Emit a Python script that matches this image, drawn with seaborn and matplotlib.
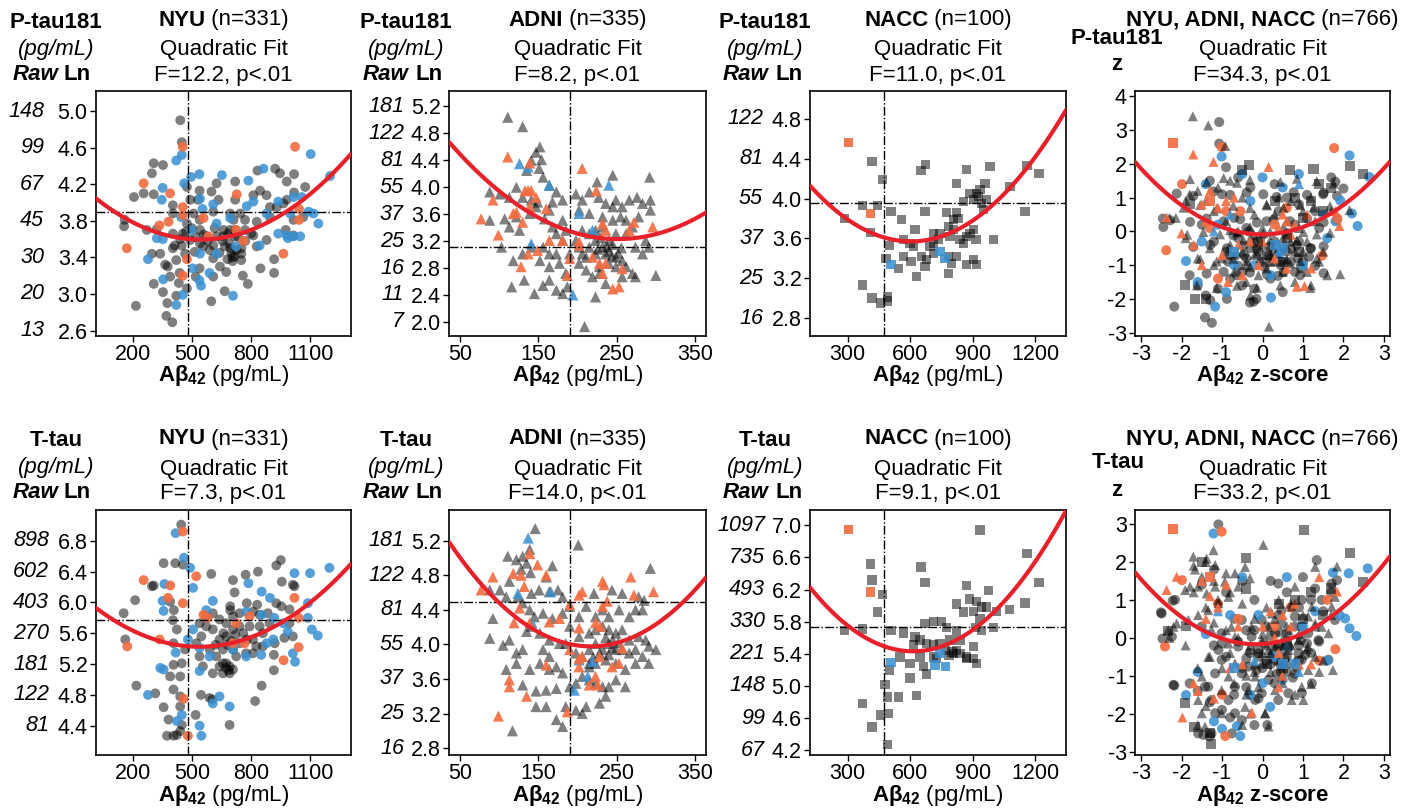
import matplotlib
matplotlib.use("Agg")
import matplotlib.pyplot as plt
import matplotlib.transforms as mtransforms
import seaborn as sns
import pandas as pd

W, H = 1412, 810

# ---------------- data ----------------
# NYU, P-tau181 (ln) vs Abeta42
nyu_ptau_gray = [(441,4.90),(449,4.66),(307,4.43),(354,4.41),(298,4.32),(307,4.09),(207,4.06),(157,3.74),(160,3.81),
    (217,2.87),(307,3.11),(354,3.02),(376,2.90),(371,2.76),(401,2.69),(378,3.30),(421,2.98),(434,3.12),(475,3.06),
    (438,3.23),(404,3.97),(404,3.88),(323,3.71),(404,3.66),(404,3.50),(454,3.66),(466,3.44),(514,3.46),(541,3.55),
    (608,3.53),(684,3.66),(716,3.63),(716,3.41),(750,3.37),(694,3.88),(719,4.03),(719,4.23),(811,4.08),(832,4.35),
    (921,4.37),(946,4.32),(980,4.23),(1017,4.31),(1073,4.17),(1017,4.11),(980,4.03),(929,3.95),(878,4.08),(845,4.13),
    (625,4.21),(599,4.12),(539,4.13),(531,4.03),(635,4.03),(608,3.90),(539,3.81),(615,3.72),(574,3.63),(667,3.52),
    (608,3.39),(539,3.28),(608,3.19),(642,3.30),(674,3.24),(666,3.03),(598,2.92),(758,3.20),(783,3.11),(847,3.28),
    (916,3.23),(916,3.38),(975,3.70),(1014,3.64),(1014,3.81),(1063,3.84),(811,3.64),(828,3.52),(769,3.70),(828,3.79),
    (878,3.59),(745,3.88),(769,3.81),(694,3.70),(660,3.63),(475,4.17),(492,4.03),(509,3.88),(475,3.77),(492,3.59),
    (413,3.53),(421,3.37),(541,3.70),(557,3.52),(625,3.63),(694,3.50),(711,3.81),(750,3.50),(750,3.44),(895,3.84),
    (895,3.95),(963,3.99),(340,3.44),(298,3.44),(272,3.70),(256,4.10),(365,3.32),(390,3.19),(519,3.19),(449,3.53),
    (700,3.45),(705,3.40),(690,3.55),(655,3.58),(720,3.70),(735,3.62),(680,3.38),(640,3.45),(580,3.58),(560,3.65),
    (500,3.72),(470,3.68),(440,3.60),(706,3.36),(725,3.48),(660,3.70),(590,3.48),(520,3.62),(770,3.58),(800,3.66)]
nyu_ptau_blue = [(449,4.52),(421,4.46),(352,4.16),(461,4.21),(496,4.28),(538,4.31),(652,4.30),(786,4.24),(862,4.37),
    (1101,4.53),(1199,4.29),(348,4.03),(323,3.61),(353,3.60),(278,3.38),(355,3.16),(421,2.88),(454,2.99),(538,3.15),
    (546,3.09),(708,2.98),(541,4.04),(554,3.93),(608,3.98),(625,3.77),(694,3.83),(778,3.96),(811,4.01),(878,3.88),
    (937,3.66),(980,3.64),(997,3.88),(1014,4.06),(1056,4.06),(1090,3.90),(1115,3.88),(1140,3.77),(986,3.61),(1014,3.63),
    (1048,3.63),(843,3.53),(724,3.52),(497,3.70),(541,3.44),(505,3.28),(589,3.23),(625,3.44),(446,3.84),(937,4.01)]
nyu_ptau_orange = [(256,4.21),(171,3.50),(454,4.61),(390,4.10),(454,3.95),(454,3.86),(336,3.75),(559,3.83),(584,3.63),
    (724,3.70),(727,4.09),(761,3.58),(1022,4.61),(1042,3.93),(1042,3.81),(963,3.44),(454,3.20),(475,3.38),(382,3.79)]

# ADNI, P-tau181 (ln)
adni_ptau_gray = [(111,5.04),(130,4.90),(152,4.60),(147,4.52),(141,4.40),(154,4.41),(151,4.28),(135,4.25),(156,4.15),
    (164,4.03),(88,3.93),(101,3.90),(113,3.85),(122,4.00),(130,3.85),(141,3.81),(149,3.78),(173,3.93),(181,3.81),
    (168,3.78),(164,3.66),(158,3.53),(147,3.71),(139,3.61),(122,3.56),(107,3.53),(88,3.51),(113,3.41),(126,3.36),
    (103,3.11),(118,2.91),(130,3.01),(132,2.62),(116,2.52),(145,2.42),(156,2.54),(164,2.62),(173,2.47),(181,2.42),
    (187,2.52),(185,2.72),(177,2.87),(164,2.82),(152,2.91),(141,3.11),(156,3.11),(164,3.01),(173,3.01),(181,3.21),
    (190,3.01),(198,3.90),(206,3.81),(215,3.93),(225,4.08),(245,4.18),(227,3.85),(236,3.76),(249,3.81),(257,3.71),
    (266,3.81),(276,3.85),(283,3.76),(293,3.81),(293,3.66),(292,4.15),(278,3.56),(270,3.41),(262,3.31),(249,3.31),
    (240,3.21),(232,3.11),(223,3.01),(215,3.11),(206,3.01),(202,2.87),(211,2.77),(219,2.67),(228,2.72),(236,2.57),
    (223,2.37),(249,2.82),(257,2.67),(270,2.72),(274,2.67),(283,3.01),(274,3.11),(287,3.21),(291,3.11),(300,2.69),
    (209,1.93),(198,3.21),(206,3.36),(223,3.36),(232,3.41),(245,3.51),(255,3.56),(262,3.51),(202,3.66),(215,3.61),
    (232,3.56),(245,3.71),(215,3.31),(223,3.21),(236,3.01),(249,2.96),(257,2.91),(262,2.82),(240,2.87),(228,2.82),
    (211,2.96),(202,3.11),(173,3.31),(185,3.36),(181,3.51),(168,3.41),(240,3.05),(245,3.15),(230,3.25),(252,3.02),
    (238,3.12),(226,3.08),(244,2.98),(256,3.10)]
adni_ptau_blue = [(126,4.35),(137,4.30),(164,4.03),(240,4.03),(202,3.61),(219,3.36),(141,3.16),(194,2.40)]
adni_ptau_orange = [(111,4.45),(139,4.36),(133,3.95),(137,3.95),(141,3.95),(92,3.81),(77,3.53),(99,3.29),(118,3.61),
    (122,3.63),(130,3.48),(139,3.71),(147,3.85),(160,3.68),(164,3.21),(181,3.21),(187,2.69),(190,2.94),(202,3.14),
    (206,4.28),(224,3.95),(232,3.46),(236,3.36),(219,2.96),(228,2.87),(236,2.87),(232,2.72),(245,2.49),(253,2.52),
    (257,2.79),(272,3.48),(266,3.36),(296,3.41),(128,2.82),(137,3.01),(149,3.06),(202,3.19)]

# NACC, P-tau181 (ln)
nacc_ptau_gray = [(417,4.37),(469,4.19),(445,3.93),(372,3.93),(286,3.80),(409,3.66),(509,3.87),(501,3.53),(485,3.40),
    (544,3.30),(372,3.13),(417,3.00),(459,2.95),(493,2.97),(493,3.01),(560,3.79),(568,3.59),(600,3.55),(624,3.69),
    (616,3.52),(605,3.37),(632,3.22),(653,4.28),(675,4.34),(672,3.87),(656,3.42),(672,3.32),(680,3.39),(712,3.65),
    (712,3.45),(736,3.59),(776,3.86),(784,3.72),(792,3.62),(800,3.35),(784,3.25),(824,3.86),(824,4.15),(829,3.80),
    (824,3.42),(840,3.59),(856,3.97),(872,4.29),(888,4.05),(872,3.62),(872,3.34),(920,3.34),(904,3.39),(904,3.69),
    (917,3.59),(920,4.05),(936,4.09),(960,4.15),(944,3.95),(952,3.89),(968,3.99),(984,4.32),(1000,3.59),(1080,4.12),
    (1152,3.87),(1160,4.33),(1219,4.25),(904,3.99),(928,4.02),(712,3.55),(744,3.65),(696,3.52),(568,3.42),(888,3.65),
    (856,3.55),(784,3.42),(808,3.79),(808,3.69)]
nacc_ptau_blue = [(509,3.34),(744,3.47),(768,3.40)]
nacc_ptau_orange = [(305,4.56),(409,3.85)]

# NYU + ADNI + NACC, P-tau181 z-score
ptau_z_nyu_gray = [(-1.07,3.24),(-1.07,2.60),(-2.46,0.38),(-2.45,0.13),(-2.18,-2.23),(-1.42,-2.55),(-1.25,-2.71),
    (-0.31,-2.11),(2.0,1.27),(1.80,1.47),(-0.9,1.9),(-1.3,1.5),(-1.0,1.1),(-0.6,1.6),(-0.3,1.3),(0.3,1.4),(0.6,1.0),
    (0.9,0.8),(1.3,0.6),(1.5,1.1),(1.7,1.6),(-1.6,-1.6),(-1.4,-1.9),(-1.1,-1.7),(-0.8,-1.4),(-0.5,-1.2),(-0.2,-1.7),
    (0.2,-1.4),(0.5,-1.8),(0.8,-1.2),(1.0,-0.9),(-1.5,0.2),(-1.2,-0.3),(-0.9,-0.6),(-0.6,-0.2),(-0.3,-0.5),(0.0,-0.9),
    (0.3,-0.3),(0.6,-0.6),(0.9,-0.3),(1.2,-0.5),(1.4,0.1),(-0.7,0.4),(-0.4,0.1),(0.1,0.3),(0.4,0.6),(0.8,0.2),
    (-1.8,-1.3),(-0.15,-2.0),(0.45,-1.0),(-0.85,-0.9),(-0.5,-1.6),(-0.1,-0.6),(0.2,-0.8),(-0.4,-0.8),(0.7,-0.9),
    (-2.12,1.12),(-1.71,1.05),(-1.21,1.18),(-0.80,1.08),(-0.39,1.15),(0.02,1.10),(0.35,1.02),(0.77,1.16),(1.10,1.08),
    (1.51,1.14),(1.84,1.05),(-2.28,0.33),(-1.79,0.28),(-1.38,0.38),(-0.96,0.30),(-0.55,0.36),(-0.14,0.26),(0.27,0.35),
    (0.68,0.30),(1.10,0.38),(1.51,0.27),(1.84,0.34),(-1.71,-0.46),(-1.29,-0.40),(-0.88,-0.50),(-0.47,-0.43),
    (-0.14,-0.52),(0.19,-0.44),(0.52,-0.49),(0.85,-0.41),(1.18,-0.50),(1.51,-0.44),(-1.38,-1.25),(-0.96,-1.20),
    (-0.63,-1.30),(-0.31,-1.22),(0.11,-1.28),(0.52,-1.21),(0.93,-1.30),(1.51,-1.24),(-1.29,-2.04),(-0.88,-2.00),
    (-0.22,-2.08),(-0.72,-0.12),(-0.45,-0.70),(-0.20,-0.35),(0.05,-1.05),(0.28,-0.62),(0.48,-0.90),(0.70,-0.52),
    (0.95,-1.10),(1.15,-0.75),(-0.60,-1.02),(-0.05,-0.20),(0.38,-1.32),(0.62,-0.05),(0.88,-0.80),(-0.35,0.00),
    (0.15,-0.72),(1.30,-1.02),(-0.82,-0.70)]
ptau_z_nyu_blue = [(-1.01,2.22),(2.15,2.25),(2.64,1.61),(-1.89,-0.88),(-1.17,-2.23),(0.21,-1.96),(2.35,0.16),
    (2.21,0.53),(1.92,0.92),(-0.5,1.7),(0.0,1.6),(0.9,1.7),(-1.6,-1.5),(-1.5,-0.3),(-0.7,-1.0),(0.5,1.3),(1.5,0.5),
    (1.8,0.3),(-1.4,1.4),(-0.2,-1.0),(1.0,-1.0),(-0.9,-1.8),(0.4,-0.7),(-1.1,0.2),(1.6,-0.2),(0.2,-1.3),(-0.3,0.9)]
ptau_z_nyu_orange = [(-1.01,2.50),(1.77,2.47),(-1.99,1.40),(-2.38,-0.56),(1.47,-0.72),(1.85,0.38),(-0.55,0.6),
    (0.3,0.2),(-1.1,-1.4),(-0.9,0.6),(0.6,0.7),(-1.3,0.1)]
ptau_z_adni_gray = [(-1.72,3.41),(-1.34,3.14),(-0.92,2.53),(2.15,0.63),(1.92,-1.27),(0.16,-2.82),(-2.14,0.40),
    (-1.8,1.1),(-1.6,1.2),(-1.4,0.9),(-1.1,1.3),(-0.8,1.5),(-0.5,1.0),(-1.2,0.6),(-0.9,0.3),(-0.6,0.0),(-0.3,-0.2),
    (0.0,0.1),(0.2,-0.4),(0.5,-0.2),(0.8,-0.6),(1.1,-0.3),(1.3,0.3),(1.0,0.6),(0.7,0.9),(0.4,1.0),(0.1,0.8),
    (-0.2,0.5),(0.2,-0.9),(0.5,-1.2),(0.8,-1.5),(1.1,-1.2),(1.4,-0.9),(-0.1,-1.3),(-0.4,-1.5),(-0.7,-1.2),(-1.0,-0.8),
    (-1.3,-0.5),(-1.6,-0.8),(-1.9,-0.2),(-2.3,0.4),(-0.2,-0.7),(0.6,0.3),(0.9,0.1),(1.5,-0.6),(1.7,0.6),(1.2,1.0),
    (-0.4,-1.0),(0.0,-0.4),(0.3,0.5),(-0.8,-0.4),(1.6,-1.3),(1.2,-1.6),(-0.3,-1.9),(-1.2,-1.0),(-1.9,0.9),
    (-0.5,-0.6),(0.1,-1.1),(0.7,-0.3),(-0.7,-0.7),(0.4,-0.5),(1.0,-0.6),
    (-1.79,1.55),(-1.38,1.46),(-0.96,1.58),(-0.63,1.44),(-0.31,1.53),(0.44,1.47),(0.85,1.56),(1.34,1.49),(1.76,1.42),
    (-1.95,0.70),(-1.54,0.78),(-1.13,0.68),(-0.72,0.76),(-0.31,0.69),(0.11,0.77),(0.52,0.70),(0.93,0.78),(1.26,0.71),
    (1.67,0.75),(-1.86,-0.10),(-1.46,-0.02),(-1.05,-0.09),(-0.63,-0.03),(-0.22,-0.10),(0.19,-0.01),(0.60,-0.08),
    (1.01,-0.02),(1.34,-0.09),(1.67,-0.04),(-1.54,-0.82),(-1.13,-0.89),(-0.72,-0.81),(-0.39,-0.88),(-0.06,-0.80),
    (0.27,-0.89),(0.60,-0.83),(0.93,-0.88),(1.34,-0.81),(-1.62,-1.60),(-1.13,-1.68),(-0.63,-1.61),(-0.14,-1.67),
    (0.44,-1.60),(1.18,-1.68),(-0.80,0.04),(-0.47,-0.26),(-0.14,-0.65),(0.19,-0.26),(0.52,0.13),(0.85,-0.26),
    (-0.31,0.13),(0.02,-0.06),(0.35,-0.65),(0.68,-0.95),(-0.63,-0.65),(-0.31,-1.05)]
ptau_z_adni_blue = [(0.9,1.4),(-0.8,0.5),(0.4,-0.6),(-1.2,0.0)]
ptau_z_adni_orange = [(-1.71,2.28),(-1.21,2.06),(0.15,1.91),(-2.37,0.41),(-2.0,-0.06),(1.04,-1.62),(0.85,-1.64),
    (1.9,0.16),(-1.5,0.8),(-1.3,1.2),(-1.1,0.7),(-0.9,0.9),(-0.7,1.0),(-1.4,0.3),(-0.6,-0.4),(-0.3,-0.3),(0.0,-0.3),
    (0.4,0.1),(0.6,0.3),(0.7,-0.1),(0.5,0.5),(0.8,0.2),(-1.0,-0.7),(-1.5,-1.0),(-0.1,-1.0),(0.3,-0.8),(0.6,-1.1),
    (1.2,-1.1),(-0.5,-1.3),(1.1,0.5),(-1.7,-0.4),(1.8,0.6),(-0.85,-1.5)]
ptau_z_nacc_gray = [(-0.33,1.98),(-0.51,1.81),(2.17,1.94),(2.48,1.69),(0.68,1.81),(1.26,1.86),(-1.91,-1.59),
    (-1.67,-1.99),(-1.8,0.8),(0.8,1.0),(1.0,0.4),(1.2,0.9),(0.6,-0.2),(0.3,0.9),(1.5,0.6),(-1.4,-2.0),(0.1,-0.7),
    (0.5,-0.9),(-0.1,-0.3),(1.7,1.3),(1.4,1.4),(0.9,-0.6)]
ptau_z_nacc_blue = [(-0.7,-0.6),(0.3,-0.4),(0.5,-0.5)]
ptau_z_nacc_orange = [(-2.22,2.62),(-1.3,0.9)]

# NYU, T-tau (ln)
nyu_ttau_gray = [(446,7.01),(357,6.51),(416,6.51),(454,6.49),(307,6.22),(298,6.21),(213,6.03),(155,5.86),(163,5.52),
    (219,4.92),(315,4.82),(357,4.64),(382,4.48),(374,4.27),(407,4.27),(424,4.28),(441,4.33),(449,4.41),(441,4.65),
    (441,4.78),(407,4.87),(390,5.04),(441,5.04),(407,5.19),(449,5.21),(466,5.39),(407,5.47),(424,5.65),(404,5.77),
    (409,5.90),(390,6.01),(519,4.54),(546,4.80),(590,4.76),(603,4.74),(691,4.41),(820,4.72),(853,4.92),(915,5.32),
    (915,5.12),(598,6.37),(708,6.29),(716,6.13),(772,6.36),(834,6.40),(927,6.48),(950,6.55),(955,6.27),(1011,6.23),
    (1019,6.21),(953,5.95),(884,5.86),(830,5.97),(778,5.99),(694,5.95),(640,5.78),(573,5.69),(548,5.56),(522,5.47),
    (539,5.30),(590,5.39),(623,5.30),(674,5.21),(691,5.08),(657,5.08),(606,5.08),(556,5.17),(708,5.39),(741,5.47),
    (778,5.52),(809,5.52),(826,5.43),(859,5.60),(893,5.73),(843,5.69),(792,5.69),(741,5.69),(708,5.65),(674,5.56),
    (640,5.52),(606,5.65),(674,5.73),(708,5.82),(694,5.90),(741,5.86),(606,5.86),(573,5.82),(539,5.73),(1011,5.56),
    (968,5.54),(994,5.73),(919,5.47),(859,5.43),(809,5.34),(774,5.34),(724,5.30),(657,5.39),(640,5.17),(708,5.13),
    (657,5.21),(691,5.17),(809,5.88),(843,5.84),(927,5.99),(994,5.91),(680,5.45),(700,5.50),(660,5.60),(720,5.58),
    (686,5.12),(672,5.15),(760,5.60),(620,5.45)]
nyu_ttau_blue = [(418,6.90),(460,6.58),(491,6.45),(361,6.24),(352,6.02),(357,5.89),(506,6.19),(573,5.90),(606,6.02),
    (786,6.25),(853,6.14),(775,5.88),(853,5.84),(895,6.06),(917,5.80),(963,5.73),(1019,6.38),(1098,6.38),(1196,6.45),
    (1087,5.99),(1107,5.65),(1137,5.57),(1087,5.80),(1011,5.34),(1022,5.23),(985,5.62),(912,5.52),(878,5.47),
    (851,5.32),(775,5.30),(708,5.39),(590,5.30),(506,5.65),(480,5.52),(418,5.35),(357,5.13),(340,5.15),(278,4.80),
    (539,5.11),(606,4.69),(640,4.78),(691,4.65),(539,4.40),(548,4.27),(449,4.54),(424,4.46),(539,5.41)]
nyu_ttau_orange = [(454,6.92),(256,6.29),(391,6.22),(379,6.06),(454,5.99),(522,6.34),(559,5.84),(580,5.80),(337,5.52),
    (173,5.43),(724,5.73),(792,5.82),(708,5.47),(767,5.47),(1019,6.06),(1040,5.80),(1040,5.42),(964,5.25),(458,4.75),
    (480,4.27)]

# ADNI, T-tau (ln)
adni_ttau_gray = [(146,5.34),(201,5.15),(139,5.10),(130,5.02),(135,4.94),(122,4.98),(111,5.02),(128,4.87),(140,4.83),
    (168,4.91),(160,4.78),(113,4.73),(101,4.63),(88,4.63),(109,4.55),(124,4.55),(141,4.59),(151,4.63),(164,4.61),
    (175,4.63),(181,4.55),(221,4.59),(244,4.63),(257,4.59),(278,4.55),(285,4.51),(293,4.88),(283,4.40),(274,4.40),
    (266,4.32),(253,4.40),(240,4.32),(232,4.40),(223,4.32),(211,4.44),(202,4.32),(190,4.44),(181,4.36),(168,4.30),
    (156,4.36),(145,4.32),(139,4.40),(130,4.48),(92,4.30),(88,4.07),(105,3.99),(113,4.05),(135,4.15),(141,4.21),
    (152,4.13),(164,4.05),(177,4.01),(185,4.01),(190,4.21),(202,4.09),(215,4.13),(223,4.17),(232,4.21),(240,4.17),
    (249,4.13),(257,4.17),(266,4.05),(278,4.09),(287,4.05),(291,3.98),(300,3.94),(291,3.78),(283,3.86),(274,3.78),
    (261,3.71),(249,3.78),(236,3.82),(223,3.78),(215,3.78),(206,3.86),(198,3.90),(232,3.94),(240,4.01),(249,3.94),
    (257,3.94),(266,3.90),(274,3.94),(215,3.94),(223,4.01),(130,3.94),(122,3.78),(139,3.71),(152,3.78),(164,3.71),
    (173,3.74),(181,3.67),(190,3.51),(198,3.55),(206,3.63),(215,3.59),(223,3.55),(232,3.51),(240,3.51),(249,3.59),
    (261,3.51),(236,3.40),(228,3.32),(211,3.28),(206,3.20),(198,3.24),(147,3.46),(160,3.47),(173,3.49),(130,3.53),
    (147,3.28),(160,3.28),(173,3.13),(181,3.05),(185,3.28),(117,3.00),(109,3.71),(122,3.90),(164,3.86),(156,3.94),
    (215,3.74),(228,3.90),(240,3.88),(220,3.85),(245,4.05),(236,4.08),(252,4.02),(244,3.96)]
adni_ttau_blue = [(137,5.23),(124,4.59),(166,4.61),(142,4.25),(196,3.47),(213,3.63),(219,3.80),(202,3.82)]
adni_ttau_orange = [(92,4.78),(77,4.63),(118,4.82),(128,4.80),(139,5.05),(149,4.92),(160,4.80),(132,4.67),(126,4.42),
    (119,4.25),(139,4.25),(164,4.26),(177,4.30),(190,4.46),(202,4.57),(206,4.61),(232,4.73),(234,4.69),(268,4.78),
    (272,4.57),(297,4.61),(238,4.50),(232,4.44),(223,4.25),(229,4.21),(202,4.19),(190,3.94),(202,3.84),(206,3.86),
    (228,3.86),(244,3.74),(253,3.78),(223,3.63),(215,3.53),(226,3.53),(257,3.96),(160,3.76),(113,3.59),(113,3.51),
    (135,3.40),(99,3.17),(187,3.22),(202,3.74)]

# NACC, T-tau (ln)
nacc_ttau_gray = [(936,6.94),(1160,6.65),(1219,6.29),(1152,6.03),(1077,5.95),(409,6.52),(417,6.32),(469,6.14),
    (444,5.92),(372,5.71),(286,5.69),(509,5.69),(652,6.48),(672,6.29),(872,6.25),(885,6.08),(976,6.19),(1016,5.93),
    (1000,5.73),(824,6.02),(856,5.92),(904,5.93),(920,6.05),(944,5.98),(968,5.98),(936,5.84),(915,5.73),(944,5.69),
    (712,5.80),(672,5.78),(752,5.80),(776,5.73),(824,5.69),(840,5.57),(792,5.57),(744,5.53),(712,5.51),(680,5.53),
    (648,5.57),(624,5.61),(616,5.51),(568,5.66),(552,5.36),(600,5.28),(648,5.36),(664,5.24),(680,5.15),(712,5.36),
    (728,5.34),(808,5.40),(824,5.44),(840,5.40),(872,5.36),(904,5.49),(872,5.34),(920,5.28),(904,5.34),(501,5.20),
    (480,5.02),(493,4.86),(544,4.86),(600,5.10),(632,4.88),(372,4.78),(457,4.64),(496,4.66),(417,4.49),(492,4.27),
    (771,5.44),(786,5.38),(802,5.42)]
nacc_ttau_blue = [(509,5.29),(720,5.26),(771,5.24),(744,5.40)]
nacc_ttau_orange = [(305,6.95),(409,6.17)]

# NYU + ADNI + NACC, T-tau z-score
ttau_z_nyu_gray = [(-1.09,2.99),(1.34,2.05),(-2.22,0.98),(-2.51,0.67),(-2.47,-0.02),(-2.18,-1.26),(-1.46,-2.56),
    (0.12,-2.30),(1.84,1.52),(-1.5,1.4),(-1.2,1.8),(-0.9,1.2),(-0.5,1.5),(-0.2,1.0),(0.2,1.5),(0.6,1.2),(0.9,0.8),
    (1.2,1.0),(1.5,0.7),(1.7,1.2),(-1.6,-1.4),(-1.3,-1.7),(-1.0,-1.9),(-0.7,-1.5),(-0.4,-1.3),(-0.1,-1.6),(0.3,-1.2),
    (0.6,-0.9),(0.9,-0.6),(1.2,-0.4),(-1.5,0.3),(-1.2,-0.2),(-0.9,-0.5),(-0.6,-0.1),(-0.3,-0.4),(0.0,-0.8),(0.3,-0.2),
    (0.6,-0.5),(0.9,-0.2),(1.4,-0.1),(-0.7,0.5),(-0.4,0.2),(0.1,0.3),(0.4,0.6),(0.8,0.3),(-1.8,-1.2),(-0.8,-2.1),
    (0.45,-0.9),(-0.2,-2.3),(1.0,1.6),(1.3,1.3),(-1.3,-2.6),(-0.1,-0.5),(0.2,-0.7),(0.5,-0.3),(-0.5,-0.8),
    (-2.24,0.03),(-2.49,0.64),(-2.16,1.0),(-1.01,0.12),(-0.51,0.47),(-0.02,0.47),(0.47,0.73),(0.97,1.0),(1.46,1.0),
    (1.79,0.47),(1.38,-0.06),(0.89,-0.41),(0.39,-0.23),(-0.10,-0.41),(-0.60,-0.23),(-1.09,-0.32),(-1.01,-0.58),
    (-0.35,-0.76),(0.31,-0.58),(0.97,-0.58),(1.63,-0.58),(0.80,-0.94),(0.15,-1.11),(-0.51,-0.94),(-1.17,-0.94),
    (-1.34,-1.29),(-0.68,-1.29),(-0.02,-1.46),(0.64,-1.46),(1.22,-1.20),(0.31,0.12),(0.97,0.29),(0.80,0.56),
    (0.47,0.38),(-0.27,0.03),(-1.01,-0.15),(0.56,-0.06),(1.13,0.12),(0.39,1.43),(1.71,1.43),(-1.42,-1.29),
    (-1.26,-1.64),(-1.17,-1.99),(-1.59,-2.52),(-1.26,-2.52),(-0.84,-1.64),(-0.68,-1.99),(-0.51,-2.17),(-0.18,-1.64),
    (0.39,-1.64),(0.97,-1.46),(-0.76,-2.52),(-2.20,-1.24),(0.05,-0.15),(0.25,-0.45),(0.45,-0.72),(0.65,-0.25),
    (0.85,-0.80),(1.05,-0.45),(0.20,0.05),(0.60,0.10),(-0.15,-0.85),(0.35,-0.95),(0.75,-1.05),(1.10,-0.15),
    (-0.40,-0.55),(0.10,-0.60),(0.55,-0.55),(0.95,-0.05),(-0.20,0.20),(0.40,0.15)]
ttau_z_nyu_blue = [(-1.21,2.75),(2.60,1.83),(2.13,1.70),(1.74,1.72),(2.32,0.05),(2.15,0.25),(2.04,0.51),(-1.89,-1.51),
    (-0.55,-2.59),(-0.63,-2.33),(0.19,-1.82),(-0.5,1.6),(0.6,1.6),(-1.6,-0.9),(-1.2,-2.2),(-1.0,-2.4),(-0.3,-1.5),
    (0.3,-0.5),(1.6,-0.6),(1.0,0.3),(-0.8,0.6),(0.5,-1.1),(-1.4,0.1),(1.3,0.7),(-0.1,0.6),(1.9,0.6),(0.0,-1.2)]
ttau_z_nyu_orange = [(-1.01,2.80),(-1.99,1.52),(-2.41,-0.23),(-0.92,-2.59),(-0.6,0.5),(0.3,0.3),(-1.0,-1.5),
    (1.4,-0.6),(1.8,-0.3),(-1.1,0.9),(0.7,0.8),(1.6,1.0)]
ttau_z_adni_gray = [(-1.21,2.31),(0.02,2.45),(1.84,1.88),(-2.2,0.29),(1.74,-0.85),(1.20,-1.22),(1.01,-1.64),
    (0.07,-1.99),(-1.7,1.9),(-1.4,2.0),(-1.2,1.5),(-0.9,1.7),(-1.7,1.2),(-1.4,0.8),(-1.1,1.0),(-0.8,1.2),(-0.5,0.9),
    (-1.2,0.4),(-0.9,0.2),(-0.6,0.0),(-0.3,-0.2),(0.0,0.1),(0.2,-0.4),(0.5,-0.2),(0.8,-0.6),(1.1,-0.3),(1.3,0.3),
    (1.0,0.6),(0.7,0.9),(0.4,1.0),(0.1,0.8),(-0.2,0.5),(0.2,-0.9),(0.5,-1.2),(0.8,-1.5),(1.4,-0.9),(-0.1,-1.3),
    (-0.4,-1.5),(-0.7,-1.2),(-1.0,-0.8),(-1.3,-0.5),(-1.6,-0.8),(-1.9,-0.2),(-0.2,-0.7),(0.6,0.3),(0.9,0.1),
    (1.5,-0.6),(1.7,0.6),(-0.4,-1.0),(0.0,-0.4),(0.3,0.5),(-0.8,-0.4),(-0.5,-2.3),(-0.3,-2.0),(-1.6,-2.3),
    (-1.4,-1.8),(-2.3,0.0),(0.4,-0.6),(-0.2,-0.9),(0.7,-0.2),(0.1,-0.2),
    (-1.71,2.14),(-1.38,2.09),(-1.17,1.92),(-1.67,1.80),(-1.50,1.61),(-1.79,1.35),(-1.91,1.26),(-1.59,1.35),
    (-1.38,1.17),(-1.17,1.35),(-0.93,1.48),(-0.68,1.70),(-0.43,1.87),(-0.31,1.57),(-0.60,1.35),(-0.84,1.08),
    (-1.09,0.91),(-1.34,0.73),(-1.59,0.60),(-1.83,0.47),(-2.12,0.38),(-2.33,0.21),(-1.26,0.21),(-0.77,0.29),
    (-0.27,0.29),(0.23,0.64),(0.72,0.82),(1.22,0.82),(1.71,0.82),(1.63,0.12),(1.13,-0.23),(0.64,-0.32),(0.15,-0.32),
    (-0.35,-0.32),(-0.84,-0.15),(-1.34,-0.50),(-0.68,-0.67),(-0.02,-0.67),(0.64,-0.67),(1.30,-0.50),(1.13,-0.85),
    (0.47,-1.02),(-0.18,-1.02),(-0.84,-1.02),(-1.50,-1.02),(-1.01,-1.38),(-0.35,-1.38),(0.31,-1.38),(0.97,-1.29),
    (-0.02,-0.06),(0.64,0.21),(1.30,0.38),(1.13,0.56),(0.15,0.29),(-0.68,0.03),(0.31,-0.23),(0.89,-0.06),(1.46,0.29),
    (0.80,1.35),(1.30,1.87),(1.79,1.08),(-1.59,-1.64),(-1.50,-1.99),(-1.42,-2.34),(-1.01,-1.99),(-0.43,-1.82),
    (0.06,-1.99),(0.72,-1.64),(0.15,-2.34)]
ttau_z_adni_blue = [(-1.1,0.7),(0.6,-0.2),(-0.2,-0.6),(0.9,-0.9)]
ttau_z_adni_orange = [(-2.37,1.26),(-2.12,1.61),(-1.98,-2.10),(-0.26,-1.97),(0.49,-1.00),(1.84,1.22),(-1.5,1.5),
    (-1.3,1.1),(-1.1,0.8),(-0.9,1.4),(-1.4,0.5),(-0.6,0.3),(0.0,0.3),(0.3,0.0),(0.5,0.6),(0.8,0.9),(0.7,0.3),
    (-1.6,-1.4),(-1.2,-1.6),(0.4,-0.4),(0.9,-0.7),(1.2,-0.7),(0.4,-1.3),(-0.5,-0.7),(1.4,1.6),(-0.8,-0.8),(0.2,0.7),
    (-1.7,-1.2)]
ttau_z_nacc_gray = [(1.03,2.84),(2.17,2.23),(2.48,1.48),(-2.34,0.18),(-1.91,-1.73),(-1.68,-2.34),(-1.27,-2.81),
    (-1.5,2.0),(-0.4,2.1),(-0.4,1.3),(0.8,1.0),(1.0,0.5),(1.2,1.2),(0.6,-0.2),(0.4,0.9),(1.5,0.6),(-1.3,-2.5),
    (0.1,-0.7),(0.5,-0.8),(-0.1,-0.3),(1.7,1.3),(-1.9,0.3)]
ttau_z_nacc_blue = [(-0.7,-0.8),(0.5,-0.7),(0.8,-0.7)]
ttau_z_nacc_orange = [(-2.22,2.87),(-1.3,1.6)]

# quadratic fit curves
fit_nyu_ptau = [(15,4.03),(323,3.70),(541,3.61),(795,3.66),(1048,4.01),(1305,4.54)]
fit_adni_ptau = [(36,4.62),(80,4.23),(164,3.47),(206,3.25),(249,3.21),(291,3.31),(362,3.61)]
fit_nacc_ptau = [(120,4.11),(300,3.82),(473,3.62),(616,3.56),(872,3.72),(1032,4.00),(1192,4.42),(1348,4.88)]
fit_all_ptau = [(-3.15,1.94),(-1.95,0.97),(-0.96,0.18),(-0.47,-0.11),(0.11,-0.18),(0.52,-0.14),(1.01,0.04),
    (2.0,1.02),(3.15,2.01)]
fit_nyu_ttau = [(15,5.90),(323,5.56),(525,5.44),(795,5.52),(1048,5.86),(1305,6.53)]
fit_adni_ttau = [(36,5.19),(101,4.44),(143,4.21),(185,4.03),(228,3.98),(270,4.05),(312,4.32),(364,4.78)]
fit_nacc_ttau = [(120,6.17),(300,5.82),(473,5.53),(585,5.44),(872,5.57),(1032,5.98),(1192,6.56)]
fit_all_ttau = [(-3.15,1.66),(-1.95,0.64),(-0.96,-0.01),(-0.63,-0.15),(-0.14,-0.19),(0.52,-0.10),(1.01,0.03),
    (2.0,0.91),(3.15,2.14)]

# cutoff reference lines (x, y)
cut_nyu_ptau = (478, 3.90)
cut_adni_ptau = (191, 3.11)
cut_nacc_ptau = (476, 3.96)
cut_nyu_ttau = (478, 5.77)
cut_adni_ttau = (191, 4.49)
cut_nacc_ttau = (476, 5.73)

# headings
cohorts = ["NYU", "ADNI", "NACC", "NYU, ADNI, NACC"]
cohort_n = [331, 335, 100, 766]
f_ptau = ["12.2", "8.2", "11.0", "34.3"]
f_ttau = ["7.3", "14.0", "9.1", "33.2"]

# axis ticks
xt_nyu = [200, 500, 800, 1100]
xt_adni = [50, 150, 250, 350]
xt_nacc = [300, 600, 900, 1200]
xt_z = [-3, -2, -1, 0, 1, 2, 3]
ln_nyu_ptau = [2.6, 3.0, 3.4, 3.8, 4.2, 4.6, 5.0]
raw_nyu_ptau = [13, 20, 30, 45, 67, 99, 148]
ln_adni_ptau = [2.0, 2.4, 2.8, 3.2, 3.6, 4.0, 4.4, 4.8, 5.2]
raw_adni_ptau = [7, 11, 16, 25, 37, 55, 81, 122, 181]
ln_nacc_ptau = [2.8, 3.2, 3.6, 4.0, 4.4, 4.8]
raw_nacc_ptau = [16, 25, 37, 55, 81, 122]
zt_ptau = [-3, -2, -1, 0, 1, 2, 3, 4]
ln_nyu_ttau = [4.4, 4.8, 5.2, 5.6, 6.0, 6.4, 6.8]
raw_nyu_ttau = [81, 122, 181, 270, 403, 602, 898]
ln_adni_ttau = [2.8, 3.2, 3.6, 4.0, 4.4, 4.8, 5.2]
raw_adni_ttau = [16, 25, 37, 55, 81, 122, 181]
ln_nacc_ttau = [4.2, 4.6, 5.0, 5.4, 5.8, 6.2, 6.6, 7.0]
raw_nacc_ttau = [67, 99, 148, 221, 330, 493, 735, 1097]
zt_ttau = [-3, -2, -1, 0, 1, 2, 3]

# ---------------- style ----------------
sns.set_theme(style="ticks")
plt.rcParams["font.family"] = ["Liberation Sans", "DejaVu Sans"]
plt.rcParams["mathtext.fontset"] = "custom"
plt.rcParams["mathtext.rm"] = "Liberation Sans"
plt.rcParams["mathtext.it"] = "Liberation Sans:italic"
plt.rcParams["mathtext.bf"] = "Liberation Sans:bold"

PAL = {"gray": (0, 0, 0, 0.5), "blue": (0.22, 0.56, 0.82, 0.85), "orange": (0.95, 0.42, 0.25, 0.9)}
RED = "#E8202A"
MARK = {"NYU": "o", "ADNI": "^", "NACC": "s"}
SIZE = {"NYU": 50, "ADNI": 64, "NACC": 46}
FS = 16
FT = 15.5

fig = plt.figure(figsize=(W / 100, H / 100), dpi=100)
renderer = fig.canvas.get_renderer()


def ftext(x, y, s, **kw):
    kw.setdefault("ha", "center")
    kw.setdefault("va", "center")
    kw.setdefault("fontsize", FS)
    return fig.text(x / W, 1 - y / H, s, color="black", **kw)


def title_line(cx, y, bold, regular):
    # bold cohort name followed by regular sample size, centred as one line
    t1 = ftext(cx, y, bold, ha="left", fontweight="bold")
    t2 = ftext(cx, y, regular, ha="left")
    w1 = t1.get_window_extent(renderer).width
    w2 = t2.get_window_extent(renderer).width
    x0 = cx - (w1 + w2) / 2
    t1.set_x(x0 / W)
    t2.set_x((x0 + w1) / W)


def frame(gray, blue, orange, site):
    parts = []
    for grp, pts in (("gray", gray), ("blue", blue), ("orange", orange)):
        d = pd.DataFrame(pts, columns=["x", "y"])
        d["grp"] = grp
        d["site"] = site
        parts.append(d)
    return pd.concat(parts, ignore_index=True)


def panel(box, df, fit, xlim, ylim, xt, yt, yfmt, cut=None, raw=None, raw_off=0):
    l, t, w, h = box
    ax = fig.add_axes([l / W, 1 - (t + h) / H, w / W, h / H])
    sites = list(dict.fromkeys(df["site"]))
    if len(sites) == 1:
        sns.scatterplot(data=df, x="x", y="y", hue="grp", palette=PAL, marker=MARK[sites[0]],
                        s=SIZE[sites[0]], linewidth=0, legend=False, ax=ax)
    else:
        sns.scatterplot(data=df, x="x", y="y", hue="grp", palette=PAL, style="site", markers=MARK,
                        s=52, linewidth=0, legend=False, ax=ax)
    ax.set_xlim(xlim)
    ax.set_ylim(ylim)
    if cut is not None:
        ax.axvline(cut[0], color="black", lw=1.0, ls="-.", zorder=3)
        ax.axhline(cut[1], color="black", lw=1.0, ls="-.", zorder=3)
    fx = [p[0] for p in fit]
    fy = [p[1] for p in fit]
    sns.regplot(x=fx, y=fy, order=2, scatter=False, ci=None, truncate=False, color=RED,
                line_kws={"lw": 3.0, "zorder": 4}, ax=ax)
    ax.set_xlim(xlim)
    ax.set_ylim(ylim)
    ax.set_xticks(xt)
    ax.set_xticklabels([str(v) for v in xt])
    ax.set_yticks(yt)
    ax.set_yticklabels([yfmt.format(v) for v in yt])
    ax.set_xlabel("")
    ax.set_ylabel("")
    ax.tick_params(axis="both", labelsize=FT, length=4, width=1, pad=2, colors="black",
                   top=False, right=False)
    for sp in ax.spines.values():
        sp.set_visible(True)
        sp.set_color("black")
        sp.set_linewidth(1.2)
    if raw is not None:
        tr = mtransforms.blended_transform_factory(ax.transAxes, ax.transData)
        for v, r in zip(yt, raw):
            ax.text(-raw_off / w, v, str(r), transform=tr, ha="right", va="center",
                    fontsize=FT, fontstyle="italic", color="black")
    return ax


boxes = [(96, 91, 255, 245), (449, 91, 257, 245), (810, 91, 256, 245), (1135, 91, 255, 245),
         (96, 510, 255, 245), (449, 510, 257, 245), (810, 510, 256, 245), (1135, 510, 255, 245)]

df_ptau_all = pd.concat([frame(ptau_z_nyu_gray, ptau_z_nyu_blue, ptau_z_nyu_orange, "NYU"),
                         frame(ptau_z_adni_gray, ptau_z_adni_blue, ptau_z_adni_orange, "ADNI"),
                         frame(ptau_z_nacc_gray, ptau_z_nacc_blue, ptau_z_nacc_orange, "NACC")], ignore_index=True)
df_ttau_all = pd.concat([frame(ttau_z_nyu_gray, ttau_z_nyu_blue, ttau_z_nyu_orange, "NYU"),
                         frame(ttau_z_adni_gray, ttau_z_adni_blue, ttau_z_adni_orange, "ADNI"),
                         frame(ttau_z_nacc_gray, ttau_z_nacc_blue, ttau_z_nacc_orange, "NACC")], ignore_index=True)

panel(boxes[0], frame(nyu_ptau_gray, nyu_ptau_blue, nyu_ptau_orange, "NYU"), fit_nyu_ptau,
      (15, 1305), (2.54, 5.22), xt_nyu, ln_nyu_ptau, "{:.1f}", cut_nyu_ptau, raw_nyu_ptau, 52)
panel(boxes[1], frame(adni_ptau_gray, adni_ptau_blue, adni_ptau_orange, "ADNI"), fit_adni_ptau,
      (36, 364), (1.79, 5.43), xt_adni, ln_adni_ptau, "{:.1f}", cut_adni_ptau, raw_adni_ptau, 45)
panel(boxes[2], frame(nacc_ptau_gray, nacc_ptau_blue, nacc_ptau_orange, "NACC"), fit_nacc_ptau,
      (120, 1348), (2.62, 5.08), xt_nacc, ln_nacc_ptau, "{:.1f}", cut_nacc_ptau, raw_nacc_ptau, 47)
panel(boxes[3], df_ptau_all, fit_all_ptau, (-3.15, 3.15), (-3.1, 4.16), xt_z, zt_ptau, "{:d}")
panel(boxes[4], frame(nyu_ttau_gray, nyu_ttau_blue, nyu_ttau_orange, "NYU"), fit_nyu_ttau,
      (15, 1305), (4.02, 7.20), xt_nyu, ln_nyu_ttau, "{:.1f}", cut_nyu_ttau, raw_nyu_ttau, 47)
panel(boxes[5], frame(adni_ttau_gray, adni_ttau_blue, adni_ttau_orange, "ADNI"), fit_adni_ttau,
      (36, 364), (2.72, 5.555), xt_adni, ln_adni_ttau, "{:.1f}", cut_adni_ttau, raw_adni_ttau, 45)
panel(boxes[6], frame(nacc_ttau_gray, nacc_ttau_blue, nacc_ttau_orange, "NACC"), fit_nacc_ttau,
      (120, 1348), (4.14, 7.19), xt_nacc, ln_nacc_ttau, "{:.1f}", cut_nacc_ttau, raw_nacc_ttau, 45)
panel(boxes[7], df_ttau_all, fit_all_ttau, (-3.15, 3.15), (-3.09, 3.37), xt_z, zt_ttau, "{:d}")

# ---------------- text ----------------
for row, (metric, fvals) in enumerate((("P-tau181", f_ptau), ("T-tau", f_ttau))):
    for col in range(4):
        l, t, w, h = boxes[row * 4 + col]
        cx = l + w / 2
        title_line(cx, t - 71, cohorts[col], " (n=" + str(cohort_n[col]) + ")")
        ftext(cx, t - 41, "Quadratic Fit")
        ftext(cx, t - 16, "F=" + fvals[col] + ", p<.01")
        if col < 3:
            ftext(cx, t + h + 40, r"$\mathbf{A\beta_{42}}$ (pg/mL)")
        else:
            ftext(cx, t + h + 40, r"$\mathbf{A\beta_{42}}$ z-score", fontweight="bold")

hdr_x = [56, 406, 765]
raw_x = [35, 385, 745]
ln_x = [77, 429, 789]
for row, (metric, t) in enumerate((("P-tau181", 91), ("T-tau", 510))):
    for col in range(3):
        ftext(hdr_x[col], t - 69, metric, fontweight="bold")
        ftext(hdr_x[col], t - 42, "(pg/mL)", fontstyle="italic")
        ftext(raw_x[col], t - 17, "Raw", fontweight="bold", fontstyle="italic")
        ftext(ln_x[col], t - 17, "Ln", fontweight="bold")

ftext(1117, 39, "P-tau181", fontweight="bold")
ftext(1117, 64, "z", fontweight="bold")
ftext(1118, 463, "T-tau", fontweight="bold")
ftext(1117, 490, "z", fontweight="bold")

fig.savefig("out.png", dpi=100)
